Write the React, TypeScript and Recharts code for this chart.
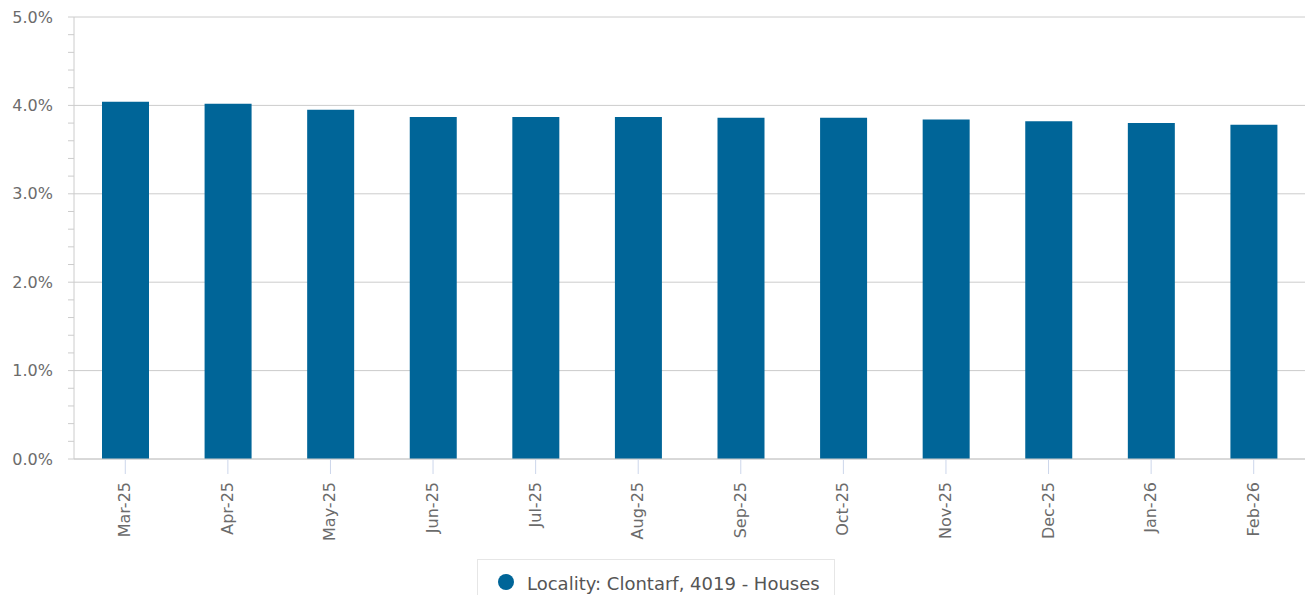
import React from "react";
import { BarChart, Bar, XAxis, YAxis, CartesianGrid } from "recharts";

const MONTHS = [
  "Mar-25", "Apr-25", "May-25", "Jun-25", "Jul-25", "Aug-25",
  "Sep-25", "Oct-25", "Nov-25", "Dec-25", "Jan-26", "Feb-26",
];
const YIELDS = [4.04, 4.02, 3.95, 3.87, 3.87, 3.87, 3.86, 3.86, 3.84, 3.82, 3.8, 3.78];
const MAJOR_TICKS = [0, 1, 2, 3, 4, 5];
const ALL_TICKS = [
  0, 0.2, 0.4, 0.6, 0.8, 1, 1.2, 1.4, 1.6, 1.8, 2, 2.2, 2.4, 2.6, 2.8,
  3, 3.2, 3.4, 3.6, 3.8, 4, 4.2, 4.4, 4.6, 4.8, 5,
];
const SERIES_NAME = "Locality: Clontarf, 4019 - Houses";

const BAR_COLOR = "#006598";
const FONT = "'DejaVu Sans', Verdana, sans-serif";

const data = MONTHS.map((m, i) => ({ month: m, value: YIELDS[i] }));

const yFormat = (v: number) =>
  Math.abs(v - Math.round(v)) < 1e-6 ? `${v.toFixed(1)}%` : "";

// rotated month labels, reading bottom-to-top
const MonthTick = (props: any) => {
  const { x, y, payload } = props;
  return (
    <g transform={`translate(${x},${y})`}>
      <text
        transform="rotate(-90)"
        x={0}
        y={5}
        textAnchor="end"
        fill="#6b6b6b"
        fontSize={16}
        fontFamily={FONT}
      >
        {payload.value}
      </text>
    </g>
  );
};

export default function App() {
  return (
    <div
      style={{
        position: "absolute",
        left: 0,
        top: 0,
        width: 1308,
        height: 595,
        background: "#fff",
        overflow: "hidden",
        fontFamily: FONT,
      }}
    >
      <BarChart
        width={1308}
        height={595}
        data={data}
        margin={{ top: 17, right: 3, left: 0, bottom: 0 }}
      >
        <CartesianGrid
          vertical={false}
          stroke="#ccc"
          horizontalValues={MAJOR_TICKS}
        />
        <XAxis
          dataKey="month"
          height={136}
          interval={0}
          stroke="#ccc"
          tickLine={{ stroke: "#ccd6eb" }}
          tickSize={15}
          tickMargin={8}
          tick={<MonthTick />}
        />
        <YAxis
          width={74}
          domain={[0, 5]}
          ticks={ALL_TICKS}
          interval={0}
          stroke="#ccc"
          tickSize={6}
          tickMargin={15}
          tickFormatter={yFormat}
          tick={{ fill: "#6b6b6b", fontSize: 16, fontFamily: FONT }}
        />
        <Bar
          dataKey="value"
          fill={BAR_COLOR}
          barSize={47}
          isAnimationActive={false}
        />
      </BarChart>

      {/* legend box, cut off by the bottom edge like the original */}
      <div
        style={{
          position: "absolute",
          left: 477,
          top: 559,
          width: 358,
          height: 50,
          border: "1px solid #e6e6e6",
          boxSizing: "border-box",
          background: "#fff",
        }}
      >
        <div
          style={{
            position: "absolute",
            left: 20,
            top: 14,
            width: 16,
            height: 16,
            borderRadius: "50%",
            background: BAR_COLOR,
          }}
        />
        <div
          style={{
            position: "absolute",
            left: 49,
            top: 13,
            fontSize: 18,
            color: "#555",
            whiteSpace: "nowrap",
          }}
        >
          {SERIES_NAME}
        </div>
      </div>
    </div>
  );
}
